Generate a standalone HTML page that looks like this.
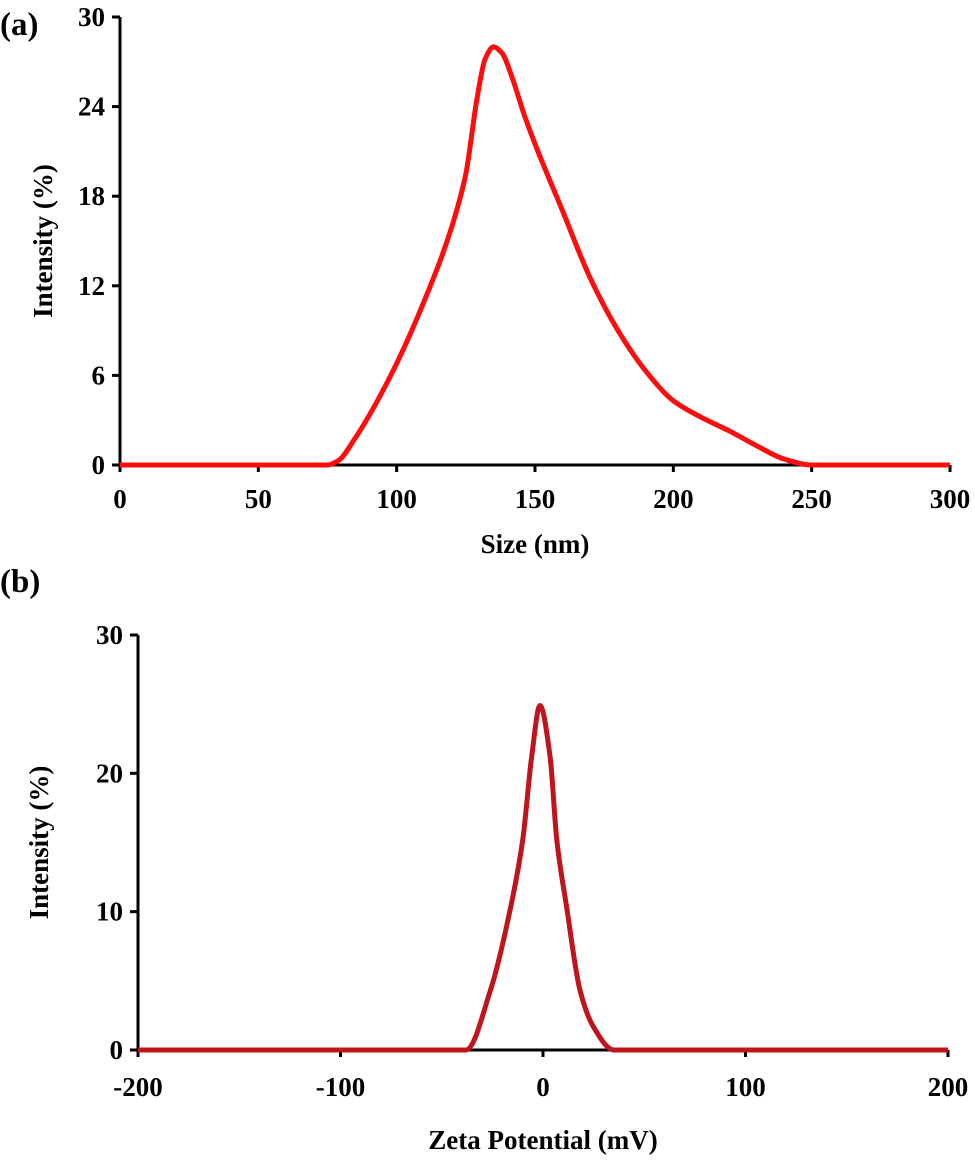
<!DOCTYPE html>
<html><head><meta charset="utf-8"><style>
body{margin:0;background:#fff}
svg text{font-family:"Liberation Serif",serif;font-weight:bold;fill:#000}
</style></head><body>
<svg id="fig" width="975" height="1166" viewBox="0 0 975 1166" xmlns="http://www.w3.org/2000/svg">
<text x="0" y="35" font-size="33">(a)</text>
<text x="0" y="592" font-size="33">(b)</text>
<g id="ca"></g>
<g id="cb"></g>
</svg>
<script>
const sizeX=[0,50,75,79,85,90,100,110,120,125,129,132,135,138,142,146,150,160,170,180,190,200,210,220,230,240,250,275,300];
const sizeY=[0,0,0,0.3,1.8,3.3,6.8,11,16,19.5,24.5,27.2,28,27.6,25.8,23.5,21.5,17,12.5,9,6.3,4.3,3.2,2.3,1.3,0.4,0,0,0];
const sizeXTicks=[0,50,100,150,200,250,300];
const sizeYTicks=[0,6,12,18,24,30];
const zetaX=[-200,-100,-38,-26,-16,-10,-5.6,-1.5,3.5,6.8,11.7,18.3,24.8,35,100,200];
const zetaY=[0,0,0,4.3,10.3,15.2,21.2,24.9,21.2,15.2,10.3,4.3,1.7,0,0,0];
const zetaXTicks=[-200,-100,0,100,200];
const zetaYTicks=[0,10,20,30];
const NS="http://www.w3.org/2000/svg";
function mk(p,tag,attrs){const e=document.createElementNS(NS,tag);for(const k in attrs)e.setAttribute(k,attrs[k]);p.appendChild(e);return e;}
function monotone(pts){const n=pts.length,dx=[],m=[],t=[];
 for(let i=0;i<n-1;i++){dx.push(pts[i+1][0]-pts[i][0]);m.push((pts[i+1][1]-pts[i][1])/dx[i]);}
 t[0]=m[0];t[n-1]=m[n-2];
 for(let i=1;i<n-1;i++){if(m[i-1]*m[i]<=0)t[i]=0;else{const w1=2*dx[i]+dx[i-1],w2=dx[i]+2*dx[i-1];t[i]=(w1+w2)/(w1/m[i-1]+w2/m[i]);}}
 let d="M"+pts[0][0]+","+pts[0][1];
 for(let i=0;i<n-1;i++){const h=dx[i]/3;d+=" C"+(pts[i][0]+h)+","+(pts[i][1]+h*t[i])+" "+(pts[i+1][0]-h)+","+(pts[i+1][1]-h*t[i+1])+" "+pts[i+1][0]+","+pts[i+1][1];}
 return d;}
function chart(g,o){
 const sx=v=>o.x0+(v-o.xmin)/(o.xmax-o.xmin)*(o.x1-o.x0);
 const sy=v=>o.y0-(v-o.ymin)/(o.ymax-o.ymin)*(o.y0-o.y1);
 const yl=mk(g,"line",{x1:o.x0,y1:o.y1,x2:o.x0,y2:o.y0+7,stroke:"#000","stroke-width":3});
 
 
 const xl=mk(g,"line",{x1:o.x0,y1:o.y0,x2:o.x1,y2:o.y0,stroke:"#000","stroke-width":3});
 
 
 o.yt.forEach(v=>{mk(g,"line",{x1:o.x0-8,y1:sy(v),x2:o.x0,y2:sy(v),stroke:"#000","stroke-width":3});
  const t=mk(g,"text",{x:o.x0-15,y:sy(v)+9,"font-size":27,"text-anchor":"end"});t.textContent=v;
  
  });
 o.xt.forEach(v=>{mk(g,"line",{x1:sx(v),y1:o.y0,x2:sx(v),y2:o.y0+7,stroke:"#000","stroke-width":3});
  const t=mk(g,"text",{x:sx(v),y:o.y0+o.xlo,"font-size":27,"text-anchor":"middle"});t.textContent=v;
  
  });
 const pts=o.xs.map((x,i)=>[sx(x),sy(o.ys[i])]);
 const p=mk(g,"path",{d:monotone(pts),fill:"none",stroke:o.col,"stroke-width":5,"stroke-linejoin":"round"});
 
 
 const xt=mk(g,"text",{x:(o.x0+o.x1)/2,y:o.xty,"font-size":27,"text-anchor":"middle"});xt.textContent=o.xtitle;
 
 
 const yt=mk(g,"text",{x:0,y:0,"font-size":27,"text-anchor":"middle",transform:"translate("+o.ytx+","+(o.y0+o.y1)/2+") rotate(-90)"});yt.textContent="Intensity (%)";
 
 
}
chart(document.getElementById("ca"),{x0:120,x1:950,y0:465,y1:17,xmin:0,xmax:300,ymin:0,ymax:30,xs:sizeX,ys:sizeY,xt:sizeXTicks,yt:sizeYTicks,col:"#ff0d0d",xlo:43,xty:553,xtitle:"Size (nm)",ytx:52});
chart(document.getElementById("cb"),{x0:138,x1:948,y0:1050,y1:635,xmin:-200,xmax:200,ymin:0,ymax:30,xs:zetaX,ys:zetaY,xt:zetaXTicks,yt:zetaYTicks,col:"#c0141b",xlo:46,xty:1149,xtitle:"Zeta Potential (mV)",ytx:48});
</script>
</body></html>
